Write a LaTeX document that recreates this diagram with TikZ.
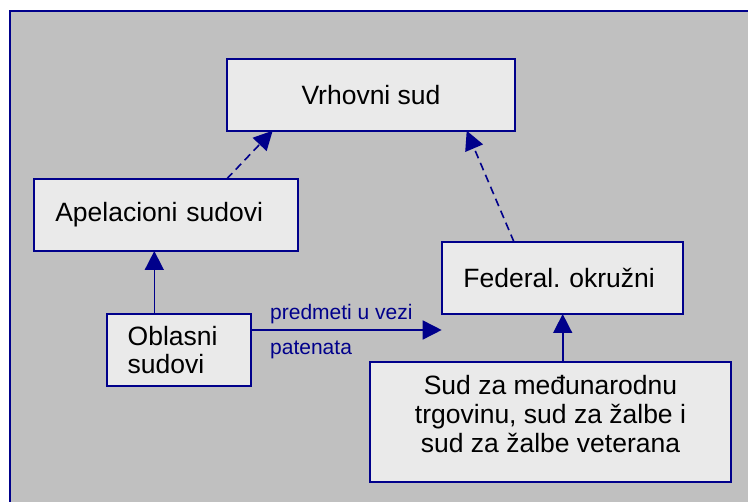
\documentclass[tikz,border=0pt]{standalone}
\usepackage{fontspec}
\setmainfont{Liberation Sans}
\usetikzlibrary{arrows.meta}
\definecolor{navyline}{RGB}{0,0,139}
\definecolor{bggray}{RGB}{192,192,192}
\definecolor{boxfill}{RGB}{234,234,234}
\frenchspacing
\begin{document}
\begin{tikzpicture}[x=1pt,y=-1pt,
  box/.style={draw=navyline, fill=boxfill, line width=2pt, anchor=north west, inner sep=0pt, outer sep=0pt,
    font=\fontsize{26.5}{29.2}\selectfont, text=black},
  leftbox/.style={box, inner xsep=21pt, align=left},
  conn/.style={draw=navyline, line width=1.6pt, -{Triangle[length=19pt,width=19pt]}},
  dconn/.style={conn, dash pattern=on 8pt off 5pt},
  lbl/.style={anchor=base west, inner sep=0pt, text=navyline, font=\fontsize{21}{24}\selectfont}]
\useasboundingbox (0,0) rectangle (748,502);
\fill[white] (0,0) rectangle (748,502);
\draw[navyline, line width=2pt, fill=bggray] (10,11) rectangle (760,515);

\node[box, minimum width=288.6pt, minimum height=71.7pt] (vs) at (226.7,59) {Vrhovni sud};
\node[leftbox, text width=221.7pt, minimum height=72pt] (ap) at (34.3,179) {Apelacioni sudovi};
\node[leftbox, text width=198.6pt, minimum height=72pt] (fed) at (442.4,242) {Federal. okružni};
\node[leftbox, text width=102.3pt, minimum height=72pt, font=\fontsize{26.5}{28}\selectfont] (ob) at (106.7,314) {Oblasni\\sudovi};
\node[box, minimum width=361pt, minimum height=119.4pt, align=center, text depth=16pt] (sud) at (370,362.3)
  {Sud za međunarodnu\\trgovinu, sud za žalbe i\\sud za žalbe veterana};

\draw[dconn] ([xshift=192.4pt]ap.north west) -- ([xshift=46pt]vs.south west);
\draw[dconn] ([xshift=71.6pt]fed.north west) -- ([xshift=240pt]vs.south west);
\draw[conn] ([xshift=47.6pt]ob.north west) -- ([xshift=120pt]ap.south west);
\draw[conn] ([xshift=12.2pt]sud.north) -- (fed.south);
\coordinate (tip) at (441.7,330);
\draw[conn] (ob.east |- tip) -- (tip);
\node[lbl] (l1) at (270,319.3) {predmeti u vezi};
\node[lbl] (l2) at (270,355) {patenata};
\end{tikzpicture}
\end{document}
